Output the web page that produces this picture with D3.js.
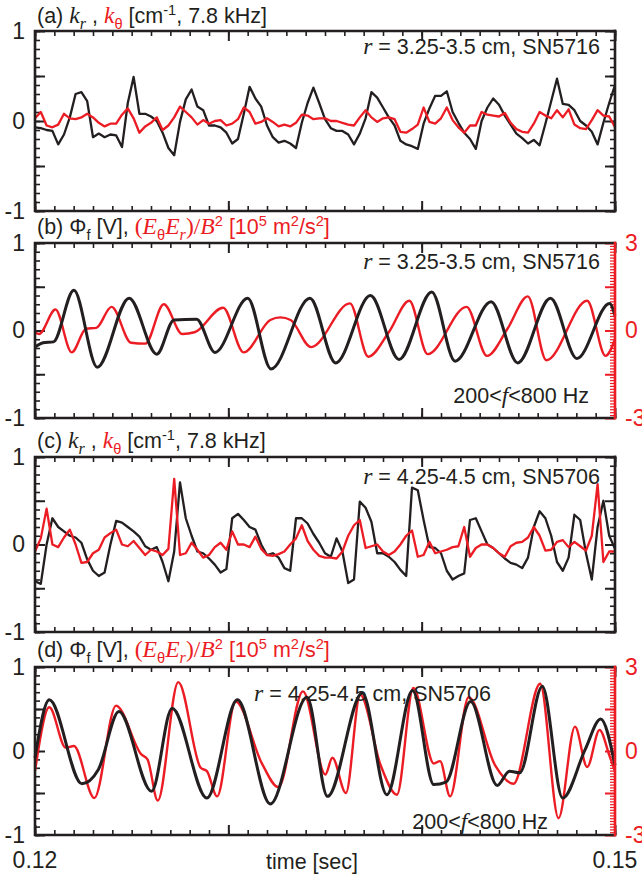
<!DOCTYPE html>
<html>
<head>
<meta charset="utf-8">
<script src="https://cdn.jsdelivr.net/npm/d3@7"></script>
<style>
  body { margin: 0; background: #fff; }
  svg { display: block; }
</style>
</head>
<body>
<script>
// time base of the wavenumber traces: one sample every 0.3 ms
var tStart = 0.12, tEnd = 0.15, dt = 0.0003;

// (a) r = 3.25-3.5 cm, SN5716 : k_r (black) and k_theta (red), cm^-1
var krA = [-0.07,-0.08,-0.10,-0.11,-0.26,-0.15,0.04,0.30,0.32,0.22,
  -0.18,-0.14,-0.18,-0.15,-0.16,-0.29,0.20,0.49,0.08,0.08,
  0.05,0.00,-0.13,-0.30,-0.38,-0.01,0.24,0.35,0.16,0.12,
  -0.05,-0.05,-0.07,-0.13,-0.25,-0.20,0.08,0.38,0.25,0.16,
  -0.05,-0.18,-0.24,-0.22,-0.25,-0.30,-0.02,0.20,0.37,0.20,
  0.02,-0.08,-0.11,-0.11,-0.15,-0.26,-0.14,0.03,0.32,0.26,
  0.15,0.04,-0.05,-0.22,-0.26,-0.28,-0.31,-0.03,0.14,0.28,
  0.28,0.33,0.10,-0.02,-0.13,-0.20,-0.31,0.00,0.15,0.25,
  0.18,0.06,-0.04,-0.14,-0.19,-0.25,-0.21,-0.27,-0.03,0.22,
  0.47,0.19,0.18,0.12,0.00,-0.05,-0.12,-0.26,-0.02,0.20,
  0.40];
var kthA = [0.03,0.10,-0.05,-0.07,-0.04,0.08,0.03,0.02,0.04,0.08,
  0.04,-0.02,-0.06,-0.03,-0.03,0.07,0.14,0.03,-0.13,-0.06,
  -0.02,0.04,-0.10,-0.05,0.04,0.16,0.10,0.04,-0.04,0.01,
  -0.03,0.00,0.01,-0.05,-0.03,0.02,0.15,0.10,-0.03,-0.01,
  0.03,-0.01,-0.06,-0.04,-0.06,-0.02,0.07,0.06,0.02,0.03,
  0.03,0.00,0.00,-0.02,-0.04,-0.05,0.04,0.12,0.04,-0.01,
  0.03,0.04,0.02,-0.12,-0.13,-0.09,-0.04,0.15,-0.01,-0.03,
  0.03,0.15,0.01,-0.07,-0.13,-0.05,-0.05,0.10,0.07,0.06,
  0.05,0.09,-0.02,-0.09,-0.12,-0.13,-0.03,0.10,0.06,0.03,
  0.12,0.04,0.13,-0.04,-0.08,-0.09,0.01,0.12,0.06,0.05,
  -0.07];

// (c) r = 4.25-4.5 cm, SN5706
var krC = [-0.42,-0.45,0.00,0.30,0.20,0.15,0.10,0.08,0.02,-0.17,
  -0.30,-0.36,-0.32,0.00,0.27,0.25,0.20,0.15,0.09,-0.02,
  -0.06,-0.03,-0.20,-0.42,-0.08,0.71,0.30,0.10,-0.08,-0.10,
  -0.16,-0.23,-0.32,-0.28,0.30,0.35,0.28,0.20,0.17,0.00,
  -0.12,-0.10,-0.15,-0.27,-0.30,0.30,0.30,0.24,0.12,0.02,
  -0.10,-0.14,0.07,-0.08,-0.44,-0.40,0.49,0.42,0.26,-0.10,
  -0.10,-0.14,-0.20,-0.29,-0.36,0.65,0.62,0.28,-0.03,-0.04,
  -0.10,-0.30,-0.40,-0.36,-0.33,0.28,0.30,0.15,0.00,-0.04,
  -0.10,-0.16,-0.21,-0.23,-0.27,-0.15,0.20,0.38,0.30,0.10,
  -0.20,-0.30,-0.15,0.34,0.28,-0.10,-0.40,0.20,0.50,0.10,
  -0.05];
var kthC = [-0.08,0.07,0.41,0.00,-0.03,0.08,0.17,0.00,-0.21,-0.20,
  -0.10,-0.06,0.08,0.13,0.17,0.00,-0.02,0.04,-0.04,-0.12,
  -0.06,-0.08,-0.12,-0.05,0.75,-0.12,-0.10,0.02,-0.06,-0.15,
  -0.12,-0.03,0.02,-0.06,0.15,0.00,0.00,-0.03,0.09,-0.05,
  -0.12,-0.13,-0.11,-0.08,0.00,0.07,0.22,0.04,-0.06,-0.13,
  -0.15,-0.15,-0.16,-0.08,0.10,0.22,0.28,-0.04,-0.02,0.00,
  -0.08,-0.12,-0.08,0.00,0.10,0.16,-0.14,-0.12,0.03,-0.10,
  -0.08,-0.06,-0.03,-0.02,0.20,-0.14,-0.04,0.00,0.00,-0.04,
  -0.10,-0.14,-0.02,0.02,0.03,0.08,0.20,0.10,-0.07,-0.06,
  0.03,0.05,-0.03,0.03,-0.02,-0.07,0.10,0.69,-0.20,-0.08,
  -0.08];

// (b) 200<f<800 Hz, turning points: floating potential [V] and stress [1e5 m2/s2]
var tPhiB = [0.12,0.12042,0.12095,0.12201,0.12322,0.12487,0.12630,0.12719,0.12836,0.12931,
  0.13100,0.13221,0.13422,0.13555,0.13735,0.13883,0.14052,0.14173,0.14359,0.14497,
  0.14666,0.14803,0.14972,0.15];
var phiB = [-0.19,-0.14,-0.13,0.46,-0.42,0.37,-0.27,0.12,0.13,-0.25,
  0.37,-0.44,0.37,-0.37,0.40,-0.33,0.44,-0.35,0.33,-0.37,
  0.37,-0.32,0.31,0.17];
var tStressB = [0.12,0.12021,0.12106,0.12190,0.12264,0.12317,0.12396,0.12497,0.12571,0.12666,
  0.12762,0.12825,0.12973,0.13079,0.13217,0.13269,0.13322,0.13428,0.13629,0.13724,
  0.13830,0.13936,0.14031,0.14232,0.14338,0.14444,0.14549,0.14645,0.14856,0.14951,
  0.15];
var stressB = [-0.06,-0.12,0.72,-0.75,0.06,0.09,0.81,-0.42,-0.45,0.90,
  -0.12,-0.06,0.78,-0.75,0.36,0.45,0.36,-0.57,0.93,-0.90,
  -0.06,1.02,-0.81,0.81,-0.87,0.06,1.17,-1.02,1.02,-0.87,
  -0.30];

// (d) 200<f<800 Hz
var tPhiD = [0.12,0.12074,0.12243,0.12328,0.12434,0.12603,0.12709,0.12889,0.13047,0.13217,
  0.13407,0.13513,0.13693,0.13820,0.13953,0.14063,0.14126,0.14253,0.14391,0.14454,
  0.14507,0.14624,0.14729,0.14846,0.14926,0.15];
var phiD = [-0.08,0.61,-0.39,-0.22,0.47,-0.48,0.51,-0.56,0.61,-0.63,
  0.64,-0.54,0.69,-0.52,0.72,-0.40,-0.37,0.59,-0.41,-0.24,
  -0.26,0.77,-0.56,0.02,0.38,-0.17];
var tStressD = [0.12,0.12074,0.12159,0.12201,0.12307,0.12419,0.12550,0.12582,0.12635,0.12741,
  0.12857,0.12889,0.12942,0.13037,0.13174,0.13259,0.13386,0.13502,0.13538,0.13608,
  0.13682,0.13788,0.13872,0.13957,0.14063,0.14095,0.14147,0.14243,0.14380,0.14475,
  0.14613,0.14708,0.14793,0.14856,0.14920,0.14972,0.15];
var stressD = [-0.72,1.56,0.12,0.18,-1.68,1.62,-0.12,-0.30,-1.77,2.46,
  -0.60,-0.72,-1.62,1.77,-0.45,-1.29,2.13,-0.84,-0.24,-1.50,
  2.01,-0.51,-1.56,2.25,-0.45,-0.36,-1.62,1.92,-0.51,-1.17,
  2.40,-2.40,0.87,-0.57,0.75,-0.18,-0.72];

// tick labels
var leftLabels = [1, 0, -1];
var rightLabels = [3, 0, -3];
var timeLabels = [0.12, 0.15];

var SANS = "Arial, 'Liberation Sans', Helvetica, sans-serif";
var SERIF = "'Times New Roman', 'Liberation Serif', serif";
var RED = "#ec1c24", BLACK = "#231f20";

var svg = d3.select("body").append("svg")
    .attr("width", 642)
    .attr("height", 880);

var x = d3.scaleLinear().domain([tStart, tEnd]).range([35, 615]);

// text with italic / sub / sup pieces
function rich(x0, y0, parts, size, anchor) {
  var txt = svg.append("text")
      .attr("x", x0).attr("y", y0)
      .attr("font-family", SANS)
      .attr("font-size", size)
      .attr("fill", BLACK)
      .attr("text-anchor", anchor || "start");
  var cur = 0;
  parts.forEach(function(p) {
    var shift = p.sub ? 0.28 * size : p.sup ? -0.38 * size : 0;
    var fs = (p.sub || p.sup) ? size * 0.68 : size;
    var s = txt.append("tspan").text(p.t).attr("dy", shift - cur);
    cur = shift;
    if (p.it) s.attr("font-family", SERIF).attr("font-style", "italic");
    if (p.serif) s.attr("font-family", SERIF);
    if (p.it || p.serif) fs = fs * 1.1;
    s.attr("font-size", fs);
    if (p.red) s.attr("fill", RED);
  });
}

function series(vals) {
  return vals.map(function(v, i) { return [tStart + i * dt, v]; });
}
function pairs(ts, vals) {
  return ts.map(function(t, i) { return [t, vals[i]]; });
}

function drawPanel(p) {
  var y = d3.scaleLinear().domain([-1, 1]).range([p.bottom, p.top]);
  var g = svg.append("g");

  // time ticks, inward on top and bottom
  [[d3.axisTop, p.top], [d3.axisBottom, p.bottom]].forEach(function(a) {
    g.append("g").attr("transform", "translate(0," + a[1] + ")")
      .call(a[0](x).tickValues(d3.range(0, 31).map(function(i) { return tStart + i * 0.001; }))
        .tickSize(-5).tickFormat(""))
      .call(function(s) { s.select(".domain").remove(); s.selectAll("line").attr("stroke", BLACK).attr("stroke-width", 1.6); });
    g.append("g").attr("transform", "translate(0," + a[1] + ")")
      .call(a[0](x).tickValues([0.12, 0.13, 0.14, 0.15]).tickSize(-10).tickFormat(""))
      .call(function(s) { s.select(".domain").remove(); s.selectAll("line").attr("stroke", BLACK).attr("stroke-width", 2); });
  });

  // left axis
  var minorV = d3.range(-10, 11).map(function(i) { return i / 10; });
  g.append("g").attr("transform", "translate(35,0)")
    .call(d3.axisLeft(y).tickValues(minorV).tickSize(-5).tickFormat(""))
    .call(function(s) { s.select(".domain").remove(); s.selectAll("line").attr("stroke", BLACK).attr("stroke-width", 1.6); });
  g.append("g").attr("transform", "translate(35,0)")
    .call(d3.axisLeft(y).tickValues([-1, -0.5, 0, 0.5, 1]).tickSize(-10).tickPadding(10)
      .tickFormat(function(d) { return leftLabels.indexOf(d) >= 0 ? d : ""; }))
    .call(function(s) {
      s.select(".domain").remove();
      s.selectAll("line").attr("stroke", BLACK).attr("stroke-width", 2);
      s.selectAll("text").attr("font-family", SANS).attr("font-size", 23).attr("fill", BLACK);
    });

  if (!p.twin) {
    g.append("g").attr("transform", "translate(615,0)")
      .call(d3.axisRight(y).tickValues(minorV).tickSize(-5).tickFormat(""))
      .call(function(s) { s.select(".domain").remove(); s.selectAll("line").attr("stroke", BLACK).attr("stroke-width", 1.6); });
    g.append("g").attr("transform", "translate(615,0)")
      .call(d3.axisRight(y).tickValues([-1, -0.5, 0, 0.5, 1]).tickSize(-10).tickFormat(""))
      .call(function(s) { s.select(".domain").remove(); s.selectAll("line").attr("stroke", BLACK).attr("stroke-width", 2); });
  }

  var line = d3.line()
      .x(function(d) { return x(d[0]); })
      .y(function(d) { return y(d[1]); });

  if (p.twin) {
    var yR = d3.scaleLinear().domain([-3, 3]).range([p.bottom, p.top]);
    g.append("g").attr("transform", "translate(615,0)")
      .call(d3.axisRight(yR).tickValues(d3.range(-30, 31).map(function(i) { return i / 10; })).tickSize(-5).tickFormat(""))
      .call(function(s) { s.select(".domain").remove(); s.selectAll("line").attr("stroke", RED).attr("stroke-width", 1.2); });
    g.append("g").attr("transform", "translate(615,0)")
      .call(d3.axisRight(yR).tickValues([-3, -1.5, 0, 1.5, 3]).tickSize(-10).tickPadding(10)
        .tickFormat(function(d) { return rightLabels.indexOf(d) >= 0 ? d : ""; }))
      .call(function(s) {
        s.select(".domain").remove();
        s.selectAll("line").attr("stroke", RED).attr("stroke-width", 2);
        s.selectAll("text").attr("font-family", SANS).attr("font-size", 23).attr("fill", RED);
      });

    var smooth = d3.line()
        .x(function(d) { return x(d[0]); })
        .y(function(d) { return yR(d[1]); })
        .curve(d3.curveMonotoneX);
    g.append("path").datum(pairs(p.tRed, p.red))
      .attr("d", smooth).attr("fill", "none").attr("stroke", RED).attr("stroke-width", 2.4);
    g.append("path").datum(pairs(p.tBlack, p.black))
      .attr("d", line.curve(d3.curveMonotoneX)).attr("fill", "none").attr("stroke", BLACK).attr("stroke-width", 3);
  } else {
    g.append("path").datum(series(p.black))
      .attr("d", line).attr("fill", "none").attr("stroke", BLACK).attr("stroke-width", 2.3)
      .attr("stroke-linejoin", "round");
    g.append("path").datum(series(p.red))
      .attr("d", line).attr("fill", "none").attr("stroke", RED).attr("stroke-width", 2.3)
      .attr("stroke-linejoin", "round");
  }

  // frame
  var fr = g.append("g").attr("fill", "none").attr("stroke-width", 2.6).attr("stroke-linecap", "square");
  fr.append("path").attr("stroke", BLACK)
    .attr("d", "M615," + p.top + "H35V" + p.bottom + "H615");
  fr.append("path").attr("stroke", p.twin ? RED : BLACK)
    .attr("d", "M615," + p.top + "V" + p.bottom);
}

var kTitle = function(tag) {
  return [{t: "(" + tag + ") "}, {t: "k", it: 1}, {t: "r", it: 1, sub: 1}, {t: " , "},
    {t: "k", it: 1, red: 1}, {t: "θ", sub: 1, red: 1}, {t: " [cm"}, {t: "-1", sup: 1}, {t: ", 7.8 kHz]"}];
};
var phiTitle = function(tag) {
  return [{t: "(" + tag + ") Φ"}, {t: "f", sub: 1}, {t: " [V], "},
    {t: "(", serif: 1, red: 1}, {t: "E", it: 1, red: 1}, {t: "θ", sub: 1, red: 1},
    {t: "E", it: 1, red: 1}, {t: "r", it: 1, sub: 1, red: 1}, {t: ")/", serif: 1, red: 1},
    {t: "B", it: 1, red: 1}, {t: "2", sup: 1, red: 1}, {t: " [10", red: 1}, {t: "5", sup: 1, red: 1},
    {t: " m", red: 1}, {t: "2", sup: 1, red: 1}, {t: "/s", red: 1}, {t: "2", sup: 1, red: 1}, {t: "]", red: 1}];
};

var panels = [
  {top: 31, bottom: 211, twin: false, black: krA, red: kthA},
  {top: 243, bottom: 418, twin: true, tBlack: tPhiB, black: phiB, tRed: tStressB, red: stressB},
  {top: 457, bottom: 632, twin: false, black: krC, red: kthC},
  {top: 667, bottom: 835, twin: true, tBlack: tPhiD, black: phiD, tRed: tStressD, red: stressD}
];
panels.forEach(drawPanel);

rich(37, 23, kTitle("a"), 21.5);
rich(37, 234, phiTitle("b"), 21.5);
rich(37, 448, kTitle("c"), 21.5);
rich(37, 657, phiTitle("d"), 21.5);

var r1 = [{t: "r", it: 1}, {t: " = 3.25-3.5 cm, SN5716"}];
var r2 = [{t: "r", it: 1}, {t: " = 4.25-4.5 cm, SN5706"}];
var band = [{t: "200<"}, {t: "f", it: 1}, {t: "<800 Hz"}];
rich(600, 54, r1, 21.5, "end");
rich(600, 269, r1, 21.5, "end");
rich(600, 484, r2, 21.5, "end");
rich(254, 701, r2, 21.5, "start");
rich(589, 403, band, 21.5, "end");
rich(548, 829, band, 21.5, "end");

// time labels under the last panel
svg.append("g").selectAll("text")
  .data(timeLabels)
  .enter().append("text")
    .attr("x", function(d) { return x(d); })
    .attr("y", 868)
    .attr("text-anchor", "middle")
    .attr("font-family", SANS).attr("font-size", 23).attr("fill", BLACK)
    .text(function(d) { return d.toFixed(2); });
svg.append("text")
  .attr("x", 312).attr("y", 869)
  .attr("text-anchor", "middle")
  .attr("font-family", SANS).attr("font-size", 21.5).attr("fill", BLACK)
  .text("time [sec]");
</script>
</body>
</html>
